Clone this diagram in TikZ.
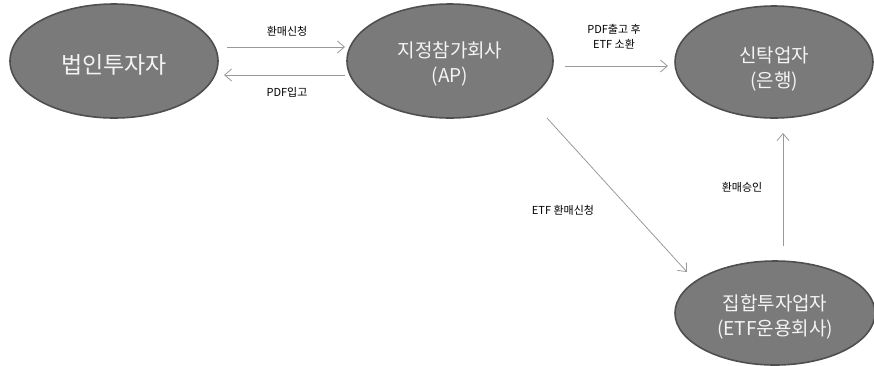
\documentclass[tikz,border=0pt]{standalone}
\usepackage{fontspec}
\setmainfont{Noto Sans CJK KR}
\usetikzlibrary{shapes.geometric,arrows.meta}
\definecolor{efill}{HTML}{7A7A7A}
\definecolor{edraw}{HTML}{4F4F4F}
\definecolor{etext}{HTML}{F4F4F4}
\definecolor{arr}{HTML}{9A9A9A}
\tikzset{
  party/.style={ellipse, fill=efill, draw=edraw, line width=1.6pt, inner sep=0pt},
  ptext/.style={text=etext, align=center, inner sep=0pt, font=\fontsize{19}{25}\selectfont},
  flow/.style={draw=arr, line width=0.8pt, -{Straight Barb[length=7pt,width=12pt,line width=0.8pt]}},
  lbl/.style={font=\fontsize{11}{15}\selectfont, text=black, align=center, inner sep=0pt}
}
\begin{document}
\begin{tikzpicture}[x=1pt,y=-1pt]
\useasboundingbox (0,0) rectangle (874,365);
\node[party, minimum width=208pt, minimum height=114pt] (inv) at (114,61) {};
\node[party, minimum width=206pt, minimum height=114pt] (ap) at (450,61) {};
\node[party, minimum width=198pt, minimum height=112pt] (bank) at (774,62) {};
\node[party, minimum width=200pt, minimum height=104pt] (cis) at (775,313) {};

\node[ptext, font=\fontsize{23}{26}\selectfont] (tinv) at ([yshift=-4pt]inv.center) {법인투자자};
\node[ptext] (tap) at ([yshift=-3pt]ap.center) {지정참가회사\\(AP)};
\node[ptext] (tbank) at ([yshift=-7pt]bank.center) {신탁업자\\(은행)};
\node[ptext] (tcis) at ([yshift=-4pt]cis.center) {집합투자업자\\(ETF운용회사)};

\coordinate (a1s) at (227,47); \coordinate (a1e) at (345,47);
\coordinate (a2s) at (345,75); \coordinate (a2e) at (224,75);
\coordinate (a3s) at (565,66); \coordinate (a3e) at (668,66);
\coordinate (a4s) at (547,118); \coordinate (a4e) at (687,272);
\coordinate (a5s) at (783,246); \coordinate (a5e) at (783,133);

\draw[flow] (a1s) -- (a1e);
\draw[flow] (a2s) -- (a2e);
\draw[flow] (a3s) -- (a3e);
\draw[flow] (a4s) -- (a4e);
\draw[flow] (a5s) -- (a5e);

\node[lbl] (l1) at (287,31) {환매신청};
\node[lbl] (l2) at (287,92) {PDF입고};
\node[lbl] (l3) at (614,37) {PDF출고 후\\ETF 소환};
\node[lbl] (l4) at (563,210) {ETF 환매신청};
\node[lbl] (l5) at (742,187) {환매승인};
\end{tikzpicture}
\end{document}
